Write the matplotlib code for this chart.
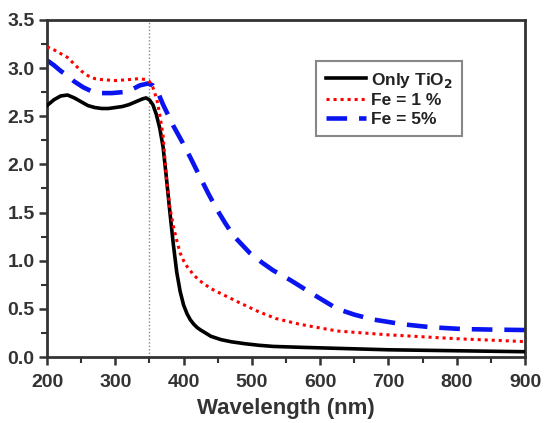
import matplotlib
matplotlib.use("Agg")
import matplotlib.pyplot as plt
from matplotlib.ticker import MultipleLocator

plt.rcParams['font.family'] = ['Liberation Sans', 'DejaVu Sans']
plt.rcParams['font.weight'] = 'bold'

# Only TiO2
wl_ti = [200, 210, 220, 230, 240, 250, 260, 270, 280, 290, 300, 310, 320, 330, 340, 345,
         350, 355, 360, 365, 370, 375, 380, 385, 390, 395, 400, 405, 410, 415, 420, 425,
         432, 440, 455, 470, 490, 510, 531, 575, 625, 700, 800, 900]
abs_ti = [2.61, 2.67, 2.71, 2.72, 2.69, 2.65, 2.61, 2.59, 2.58, 2.58, 2.59, 2.60, 2.62, 2.65, 2.68, 2.69,
          2.67, 2.62, 2.52, 2.38, 2.18, 1.85, 1.50, 1.17, 0.88, 0.68, 0.54, 0.45, 0.385, 0.34, 0.305, 0.28,
          0.25, 0.215, 0.18, 0.158, 0.138, 0.122, 0.11, 0.10, 0.09, 0.075, 0.065, 0.055]

# Fe = 1 %
wl_fe1 = [200, 210, 220, 230, 240, 250, 260, 270, 280, 300, 320, 335, 345, 350, 355, 361,
          365, 370, 375, 380, 385, 390, 395, 400, 405, 415, 424, 440, 460, 483, 510, 535,
          570, 625, 700, 800, 900]
abs_fe1 = [3.22, 3.19, 3.15, 3.11, 3.04, 2.97, 2.92, 2.89, 2.88, 2.87, 2.88, 2.89, 2.88, 2.86, 2.80, 2.67,
           2.52, 2.30, 1.84, 1.55, 1.36, 1.21, 1.08, 1.00, 0.94, 0.85, 0.79, 0.71, 0.64, 0.56, 0.47, 0.40,
           0.34, 0.27, 0.23, 0.19, 0.16]

# Fe = 5%
wl_fe5 = [200, 210, 220, 230, 240, 253, 265, 278, 295, 311, 325, 336, 348, 355, 361, 370,
          385, 399, 410, 424, 436, 449, 461, 473, 485, 497, 515, 531, 556, 590, 625, 650,
          677, 721, 761, 809, 850, 900]
abs_fe5 = [3.08, 3.03, 2.97, 2.92, 2.86, 2.80, 2.76, 2.74, 2.74, 2.75, 2.78, 2.82, 2.84, 2.82, 2.77, 2.62,
           2.40, 2.22, 2.07, 1.87, 1.70, 1.53, 1.39, 1.26, 1.17, 1.08, 0.98, 0.90, 0.80, 0.65, 0.50, 0.44,
           0.39, 0.34, 0.31, 0.29, 0.285, 0.28]

labels = ['Only TiO$_\\mathbf{2}$', 'Fe = 1 %', 'Fe = 5%']
x_ticks = [200, 300, 400, 500, 600, 700, 800, 900]
y_ticks = [0.0, 0.5, 1.0, 1.5, 2.0, 2.5, 3.0, 3.5]

fig = plt.figure(figsize=(5.44, 4.23), dpi=100)
ax = fig.add_axes([0.0864, 0.156, 0.8787, 0.797])

ax.axvline(350, color='#888888', lw=1.0, ls=(0, (1, 1.5)), zorder=1)

ax.plot(wl_ti, abs_ti, color='black', lw=2.6, label=labels[0], zorder=3)
ax.plot(wl_fe1, abs_fe1, color='red', lw=2.2, ls=(0, (1, 1.3)), label=labels[1], zorder=4)
ax.plot(wl_fe5, abs_fe5, color='#0a14f0', lw=3.3, ls=(0, (4.5, 2.6)), label=labels[2], zorder=2)

ax.set_xlim(200, 900)
ax.set_ylim(0, 3.5)
ax.set_xticks(x_ticks)
ax.set_yticks(y_ticks)
ax.set_yticklabels([f'{v:.1f}' for v in y_ticks])
ax.xaxis.set_minor_locator(MultipleLocator(50))
ax.yaxis.set_minor_locator(MultipleLocator(0.25))
ax.tick_params(which='major', direction='out', length=6, width=1.8, color='#333333',
               labelsize=14)
ax.tick_params(axis='x', which='major', pad=6)
ax.tick_params(axis='y', which='major', pad=3)
ax.tick_params(which='minor', direction='out', length=4, width=1.5, color='#333333')
for lab in ax.get_xticklabels() + ax.get_yticklabels():
    lab.set_fontweight('bold')
    lab.set_color('#333333')
for s in ax.spines.values():
    s.set_linewidth(2.0)
    s.set_color('#333333')

ax.set_xlabel('Wavelength (nm)', fontsize=16, fontweight='bold', color='#333333', labelpad=5)

leg = ax.legend(loc='upper left', bbox_to_anchor=(0.563, 0.878), fontsize=12.5,
                frameon=True, fancybox=False, edgecolor='#888888', framealpha=1,
                handlelength=2.3, handletextpad=0.3, labelspacing=0.2, borderpad=0.55,
                borderaxespad=0)
leg.get_frame().set_linewidth(1.5)
for t in leg.get_texts():
    t.set_fontweight('bold')
    t.set_color('#222222')

fig.savefig('out.png', dpi=100)
